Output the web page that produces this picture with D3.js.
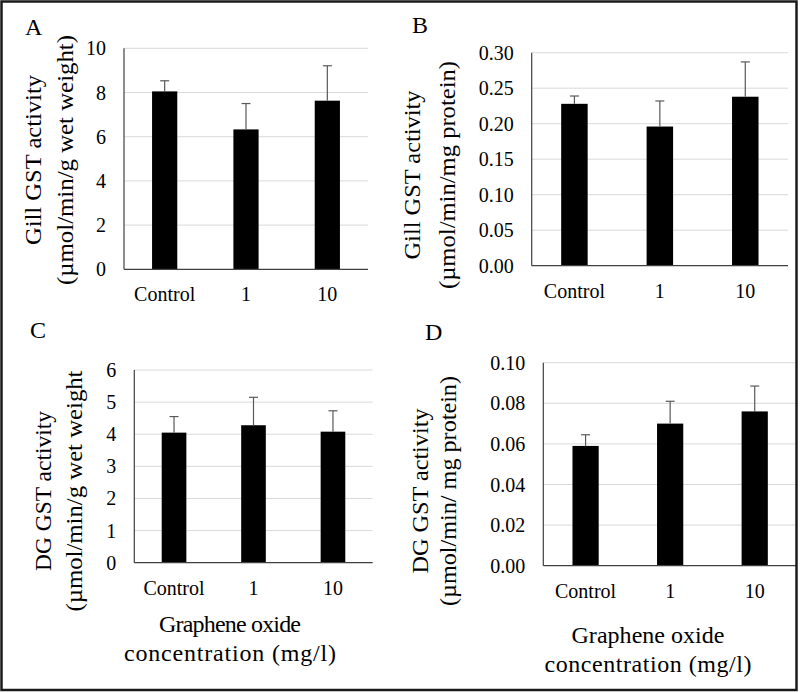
<!DOCTYPE html>
<html><head><meta charset="utf-8">
<script src="https://cdn.jsdelivr.net/npm/d3@7"></script>
<style>
body{margin:0;background:#fff}
svg{display:block}
</style>
</head><body><svg id="c" width="800" height="693"></svg>
<script>
const categories = ["Control", "1", "10"];
const gillWetMeans = [8.05, 6.33, 7.63];
const gillWetErrors = [0.48, 1.17, 1.58];
const gillProteinMeans = [0.228, 0.196, 0.238];
const gillProteinErrors = [0.011, 0.036, 0.049];
const dgWetMeans = [4.05, 4.28, 4.08];
const dgWetErrors = [0.50, 0.87, 0.65];
const dgProteinMeans = [0.059, 0.070, 0.076];
const dgProteinErrors = [0.0055, 0.011, 0.0125];
const ticksA = [0, 2, 4, 6, 8, 10];
const ticksB = [0, 0.05, 0.10, 0.15, 0.20, 0.25, 0.30];
const ticksC = [0, 1, 2, 3, 4, 5, 6];
const ticksD = [0, 0.02, 0.04, 0.06, 0.08, 0.10];
const xTitleLines = ["Graphene oxide", "concentration (mg/l)"];

const FONT = "'Liberation Serif', 'Times New Roman', Tinos, 'Nimbus Roman', 'Nimbus Roman No9 L', 'DejaVu Serif', serif";

const panels = [
  {letter:"A", lp:[25,35], box:{l:124,r:368,t:48.3,b:269.3}, means:gillWetMeans, errs:gillWetErrors,
   ticks:ticksA, fmt:d3.format("d"),
   ylab:["Gill GST activity","(µmol/min/g wet weight)"], ylx:[41,73], yc:160, ylen:[170,250]},
  {letter:"B", lp:[412,33], box:{l:531.7,r:788,t:52.7,b:265.7}, means:gillProteinMeans, errs:gillProteinErrors,
   ticks:ticksB, fmt:d3.format(".2f"),
   ylab:["Gill GST activity","(µmol/min/mg protein)"], ylx:[420,455], yc:175, ylen:[169,228]},
  {letter:"C", lp:[30,338], box:{l:134.3,r:372.7,t:370,b:562.7}, means:dgWetMeans, errs:dgWetErrors,
   ticks:ticksC, fmt:d3.format("d"),
   ylab:["DG GST activity","(µmol/min/g wet weight"], ylx:[51,82], yc:491, ylen:[160,241],
   xt:{cx:230, ys:[632,661], lens:[142,212]}},
  {letter:"D", lp:[425,340], box:{l:543.3,r:797,t:362.7,b:565.7}, means:dgProteinMeans, errs:dgProteinErrors,
   ticks:ticksD, fmt:d3.format(".2f"),
   ylab:["DG GST activity","(µmol/min/ mg protein)"], ylx:[428,456], yc:491, ylen:[165,230],
   xt:{cx:648, ys:[642.7,671.7], lens:[153,207]}}
];

const svg = d3.select("#c").attr("font-family", FONT).style("font-family", FONT);
svg.append("rect").attr("width",800).attr("height",693).attr("fill","#fff");

panels.forEach(p => {
  const b = p.box;
  const g = svg.append("g");
  const x = d3.scaleBand().domain(categories).range([b.l, b.r]).paddingInner(0.69).paddingOuter(0.345);
  const y = d3.scaleLinear().domain([0, p.ticks[p.ticks.length-1]]).range([b.b, b.t]);

  g.selectAll("line.grid").data(p.ticks.slice(1)).join("line")
    .attr("x1", b.l).attr("x2", b.r).attr("y1", d => y(d)).attr("y2", d => y(d))
    .attr("stroke", "#d9d9d9").attr("stroke-width", 1);

  const data = categories.map((c,i) => ({c, v:p.means[i], e:p.errs[i]}));
  g.selectAll("rect.bar").data(data).join("rect")
    .attr("x", d => x(d.c)).attr("width", x.bandwidth())
    .attr("y", d => y(d.v)).attr("height", d => y(0) - y(d.v))
    .attr("fill", "#000");

  const capW = 9;
  g.selectAll("line.err").data(data).join("line")
    .attr("x1", d => x(d.c) + x.bandwidth()/2).attr("x2", d => x(d.c) + x.bandwidth()/2)
    .attr("y1", d => y(d.v)).attr("y2", d => y(d.v + d.e))
    .attr("stroke", "#595959").attr("stroke-width", 1.2);
  g.selectAll("line.cap").data(data).join("line")
    .attr("x1", d => x(d.c) + x.bandwidth()/2 - capW/2).attr("x2", d => x(d.c) + x.bandwidth()/2 + capW/2)
    .attr("y1", d => y(d.v + d.e)).attr("y2", d => y(d.v + d.e))
    .attr("stroke", "#595959").attr("stroke-width", 1.2);

  g.append("line").attr("x1", b.l).attr("x2", b.l).attr("y1", y.range()[1]).attr("y2", y(0))
    .attr("stroke", "#404040").attr("stroke-width", 1.2);
  g.append("line").attr("x1", b.l).attr("x2", b.r).attr("y1", y(0)).attr("y2", y(0))
    .attr("stroke", "#404040").attr("stroke-width", 1.2);

  g.selectAll("text.yt").data(p.ticks).join("text")
    .attr("x", b.l - 18).attr("y", d => y(d)).attr("dy", "0.35em")
    .attr("text-anchor", "end").attr("font-size", 20).attr("font-family", FONT).text(d => p.fmt(d));

  g.selectAll("text.xt").data(categories).join("text")
    .attr("x", d => x(d) + x.bandwidth()/2).attr("y", y(0) + 32)
    .attr("text-anchor", "middle").attr("font-size", 20).attr("font-family", FONT).text(d => d);

  p.ylab.forEach((t, i) => {
    g.append("text")
      .attr("transform", `translate(${p.ylx[i]},${p.yc}) rotate(-90)`)
      .attr("text-anchor", "middle").attr("font-size", 23).attr("font-family", FONT)
      .attr("textLength", p.ylen[i]).attr("lengthAdjust", "spacingAndGlyphs")
      .text(t);
  });

  g.append("text").attr("x", p.lp[0]).attr("y", p.lp[1]).attr("font-size", 24)
    .attr("font-family", FONT).text(p.letter);

  if (p.xt) {
    xTitleLines.forEach((t, i) => {
      g.append("text").attr("x", p.xt.cx).attr("y", p.xt.ys[i])
        .attr("text-anchor", "middle").attr("font-size", 24).attr("font-family", FONT)
        .attr("textLength", p.xt.lens[i]).attr("lengthAdjust", "spacing")
        .text(t);
    });
  }
});

svg.append("rect").attr("x", 1.5).attr("y", 1.5).attr("width", 795).attr("height", 688.5)
  .attr("fill", "none").attr("stroke", "#1a1a1a").attr("stroke-width", 2.5);
</script>
</body></html>
